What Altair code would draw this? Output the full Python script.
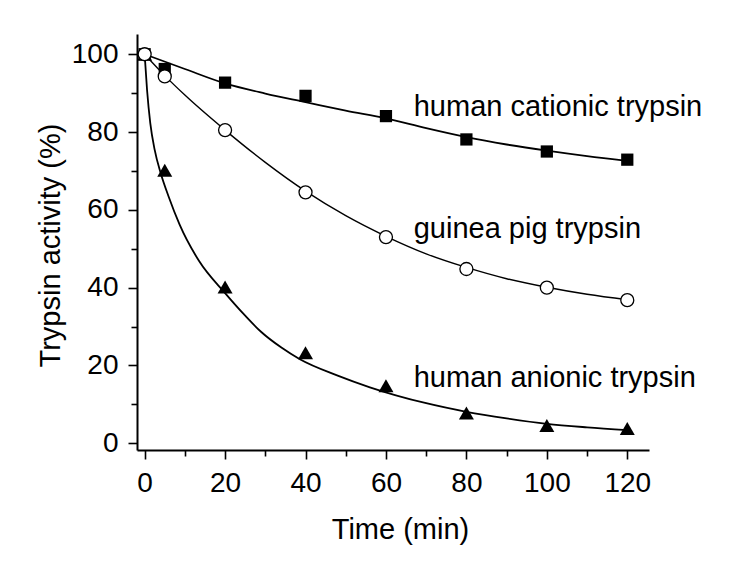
import altair as alt
import pandas as pd

FONT = "Liberation Sans"

# measured points
time = [0, 5, 20, 40, 60, 80, 100, 120]
cationic = [100, 96.2, 92.7, 89.3, 84.1, 78.1, 75.0, 72.9]
guinea = [100, 94.3, 80.5, 64.5, 53.0, 44.8, 40.0, 36.8]
anionic = [100, 70.2, 40.2, 23.3, 14.8, 7.8, 4.6, 3.8]

# fitted curves
cat_fit_t = [0, 10, 20, 30, 40, 50, 60, 70, 80, 90, 100, 110, 120]
cat_fit = [100, 96.2, 92.5, 89.9, 87.7, 85.5, 83.5, 81.0, 78.7, 76.8, 75.2, 73.8, 72.6]
gp_fit_t = [0, 5, 10, 20, 30, 40, 50, 60, 70, 80, 90, 100, 110, 120]
gp_fit = [100, 94.5, 89.5, 80.5, 72.2, 64.8, 58.5, 53.2, 48.7, 45.2, 42.3, 40.1, 38.3, 36.9]
an_fit_t = [0, 0.6, 1.4, 2.5, 4, 6, 8.7, 13.5, 20, 25, 29, 34, 38.6, 48, 56, 70, 80, 90, 100, 110, 120]
an_fit = [100, 90.8, 82.3, 75.4, 69.4, 63.3, 56.2, 46.9, 38.6, 32.8, 28.6, 24.6, 21.6, 17.4, 14.4, 10.3, 8.1, 6.4, 5.0, 4.1, 3.4]

label_text = ["human cationic trypsin", "guinea pig trypsin", "human anionic trypsin"]
label_x = [66.9, 66.9, 66.9]
label_y = [84.0, 52.8, 14.4]

x_ticks = list(range(0, 121, 10))
y_ticks = list(range(0, 101, 10))

xs = alt.Scale(domain=[-1.9, 125.4], nice=False, zero=False)
ys = alt.Scale(domain=[-1.72, 105.2], nice=False, zero=False)

x_axis = alt.Axis(
    values=x_ticks, title="Time (min)", labelExpr="datum.value % 20 == 0 ? datum.label : ''",
    grid=False, domainColor="black", domainWidth=2, tickColor="black", tickWidth=1.6,
    tickSize={"condition": {"test": "datum.value % 20 == 0", "value": 9}, "value": 6},
    labelFont=FONT, labelFontSize=28, labelColor="black", labelPadding=10,
    titleFont=FONT, titleFontSize=29, titleFontWeight="normal", titleColor="black",
    titleX=263, titleY=88, titleBaseline="alphabetic", titleAnchor="middle",
    labelFlush=False, labelOverlap=False,
)
y_axis = alt.Axis(
    values=y_ticks, title="Trypsin activity (%)", labelExpr="datum.value % 20 == 0 ? datum.label : ''",
    grid=False, domainColor="black", domainWidth=2, tickColor="black", tickWidth=1.6,
    tickSize={"condition": {"test": "datum.value % 20 == 0", "value": 9}, "value": 6},
    labelFont=FONT, labelFontSize=28, labelColor="black", labelPadding=10,
    titleFont=FONT, titleFontSize=29, titleFontWeight="normal", titleColor="black",
    titleX=-78, titleY=211, titleBaseline="alphabetic", titleAngle=270, titleAlign="center",
    labelFlush=False, labelOverlap=False,
)

pts = pd.DataFrame({"t": time * 3,
                    "v": cationic + guinea + anionic,
                    "s": ["cat"] * 8 + ["gp"] * 8 + ["an"] * 8})
fits = pd.DataFrame({"t": cat_fit_t + gp_fit_t + an_fit_t,
                     "v": cat_fit + gp_fit + an_fit,
                     "s": ["cat"] * len(cat_fit_t) + ["gp"] * len(gp_fit_t) + ["an"] * len(an_fit_t)})
labels = pd.DataFrame({"x": label_x, "y": label_y, "text": label_text})

base_fit = alt.Chart(fits)
line_cat = base_fit.transform_filter("datum.s == 'cat'").mark_line(
    color="black", strokeWidth=1.8, interpolate="monotone").encode(
    x=alt.X("t:Q", scale=xs, axis=x_axis), y=alt.Y("v:Q", scale=ys, axis=y_axis))
line_gp = base_fit.transform_filter("datum.s == 'gp'").mark_line(
    color="black", strokeWidth=1.4, interpolate="monotone").encode(
    x=alt.X("t:Q", scale=xs), y=alt.Y("v:Q", scale=ys))
line_an = base_fit.transform_filter("datum.s == 'an'").mark_line(
    color="black", strokeWidth=1.8, interpolate="monotone").encode(
    x=alt.X("t:Q", scale=xs), y=alt.Y("v:Q", scale=ys))

base_pts = alt.Chart(pts)
tri = base_pts.transform_filter("datum.s == 'an'").mark_point(
    shape="triangle-up", filled=True, color="black", size=225, opacity=1).encode(
    x=alt.X("t:Q", scale=xs), y=alt.Y("v:Q", scale=ys))
sq = base_pts.transform_filter("datum.s == 'cat'").mark_point(
    shape="square", filled=True, color="black", size=150, opacity=1).encode(
    x=alt.X("t:Q", scale=xs), y=alt.Y("v:Q", scale=ys))
circ = base_pts.transform_filter("datum.s == 'gp'").mark_point(
    shape="circle", filled=True, fill="white", stroke="black", strokeWidth=1.3, size=169, opacity=1).encode(
    x=alt.X("t:Q", scale=xs), y=alt.Y("v:Q", scale=ys))

txt = alt.Chart(labels).mark_text(
    align="left", baseline="alphabetic", font=FONT, fontSize=29, color="black").encode(
    x=alt.X("x:Q", scale=xs), y=alt.Y("y:Q", scale=ys), text="text:N")

chart = alt.layer(line_cat, line_gp, line_an, tri, sq, circ, txt).properties(
    width=512, height=416,
    background="white",
    autosize=alt.AutoSizeParams(type="none"),
    padding={"left": 129, "top": 26, "right": 80, "bottom": 120},
).configure_view(strokeWidth=0, stroke=None)

chart.save("out.html", embed_options={"renderer": "svg", "actions": False})
